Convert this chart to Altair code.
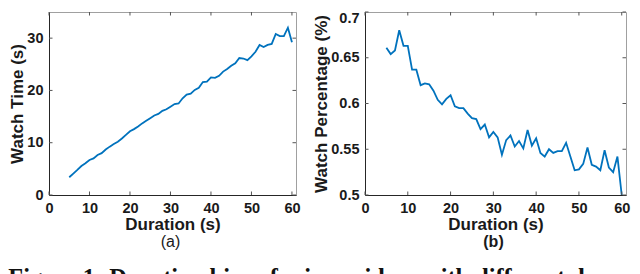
import altair as alt
import pandas as pd

durations = list(range(5, 61))
watch_time = [3.4, 4.1, 4.8, 5.55, 6.06, 6.7, 7.0, 7.65, 8.0, 8.7, 9.25, 9.75, 10.2, 10.8,
              11.5, 12.2, 12.6, 13.1, 13.7, 14.2, 14.7, 15.2, 15.5, 16.1, 16.4, 16.9, 17.4,
              17.5, 18.5, 19.2, 19.4, 20.1, 20.5, 21.6, 21.7, 22.5, 22.4, 22.8, 23.6, 24.1,
              24.7, 25.2, 26.2, 26.1, 25.8, 26.5, 27.4, 28.7, 28.3, 28.7, 28.9, 30.8, 30.4,
              30.4, 32.0, 29.2]
watch_pct = [0.661, 0.654, 0.658, 0.680, 0.663, 0.663, 0.637, 0.637, 0.620, 0.622, 0.621,
             0.614, 0.604, 0.599, 0.605, 0.609, 0.597, 0.595, 0.595, 0.589, 0.584, 0.583,
             0.572, 0.577, 0.563, 0.569, 0.563, 0.544, 0.560, 0.565, 0.553, 0.559, 0.551,
             0.571, 0.554, 0.562, 0.546, 0.542, 0.550, 0.546, 0.548, 0.548, 0.557, 0.542,
             0.527, 0.528, 0.534, 0.552, 0.533, 0.531, 0.527, 0.549, 0.530, 0.525, 0.542,
             0.500]

x_ticks = [0, 10, 20, 30, 40, 50, 60]
y_ticks_a = [0, 10, 20, 30]
y_ticks_b = [0.5, 0.55, 0.6, 0.65, 0.7]
x_title = "Duration (s)"
y_title_a = "Watch Time (s)"
y_title_b = "Watch Percentage (%)"
sub_a = "(a)"
sub_b = "(b)"
caption = "Figure 1: Duration bias of micro-videos with different dura-"

W_A, W_B, H = 247, 261, 183
FONT = "Liberation Sans"
TXT = "#1a1a1a"
TICK = 3.5
TICK_COLOR = "#555555"
LINE_COLOR = "#0072BD"


def panel(values, ydom, yticks, yfmt, ytitle, width, label_pad, sub, sub_weight, top_fix=False):
    df = pd.DataFrame({"d": durations, "v": values})
    xs = alt.Scale(domain=[0, 61], nice=False)
    ys = alt.Scale(domain=ydom, nice=False, zero=False)
    xaxis = alt.Axis(values=x_ticks, ticks=False, tickSize=0, grid=False, format="d",
                     labelFont=FONT, labelFontSize=14.5, labelFontWeight="bold",
                     labelColor=TXT, labelPadding=6.5, labelFlush=False, labelOverlap=False,
                     title=x_title, titleFont=FONT, titleFontSize=17, titleFontWeight="bold",
                     titleColor=TXT, titlePadding=1.5, domainColor="#262626", domainWidth=1)
    yaxis_kw = dict(values=yticks, ticks=False, tickSize=0, grid=False, format=yfmt,
                    labelFont=FONT, labelFontSize=14.5, labelFontWeight="bold",
                    labelColor=TXT, labelPadding=label_pad, labelFlush=False,
                    labelOverlap=False,
                    title=ytitle, titleFont=FONT, titleFontSize=17, titleFontWeight="bold",
                    titleColor=TXT, titlePadding=0, domainColor="#262626", domainWidth=1)
    if top_fix:
        yaxis_kw["labelBaseline"] = {"condition": {"test": "datum.value > 0.69", "value": "top"},
                                     "value": "middle"}
        yaxis_kw["labelOffset"] = {"condition": {"test": "datum.value > 0.69", "value": -1},
                                   "value": 0}
    yaxis = alt.Axis(**yaxis_kw)

    line = alt.Chart(df).mark_line(color=LINE_COLOR, strokeWidth=1.8, clip=True).encode(
        x=alt.X("d:Q", scale=xs, axis=xaxis),
        y=alt.Y("v:Q", scale=ys, axis=yaxis),
    )
    xt = pd.DataFrame({"t": x_ticks})
    yt = pd.DataFrame({"t": yticks})
    rule = dict(color=TICK_COLOR, strokeWidth=1)
    bot = alt.Chart(xt).mark_rule(**rule).encode(
        x=alt.X("t:Q", scale=xs, axis=xaxis), y=alt.value(H), y2=alt.value(H - TICK))
    top = alt.Chart(xt).mark_rule(**rule).encode(
        x=alt.X("t:Q", scale=xs, axis=xaxis), y=alt.value(0), y2=alt.value(TICK))
    left = alt.Chart(yt).mark_rule(**rule).encode(
        y=alt.Y("t:Q", scale=ys, axis=yaxis), x=alt.value(0), x2=alt.value(TICK))
    right = alt.Chart(yt).mark_rule(**rule).encode(
        y=alt.Y("t:Q", scale=ys, axis=yaxis), x=alt.value(width), x2=alt.value(width - TICK))
    return alt.layer(line, bot, top, left, right).properties(
        width=width, height=H,
        title=alt.TitleParams(sub, orient="bottom", font=FONT, fontSize=16,
                              fontWeight=sub_weight, color=TXT, offset=1.5, dx=-2),
    )


pa = panel(watch_time, [0, 35], y_ticks_a, "d", y_title_a, W_A, 6, sub_a, "normal")
pb = panel(watch_pct, [0.5, 0.7], y_ticks_b, ".2~f", y_title_b, W_B, 6, sub_b, "bold",
           top_fix=True)

chart = alt.hconcat(
    pa, pb, spacing=69, bounds="flush",
    title=alt.TitleParams(caption, orient="bottom", anchor="start", font="Liberation Serif",
                          fontSize=24.3, fontWeight="bold", color="#111111", offset=16),
).properties(
    padding={"left": 0, "top": 1, "right": 0, "bottom": 0},
    background="white",
).configure_view(stroke="#a0a0a0", strokeWidth=1)

chart.save("out.html", embed_options={"renderer": "svg", "actions": False})
